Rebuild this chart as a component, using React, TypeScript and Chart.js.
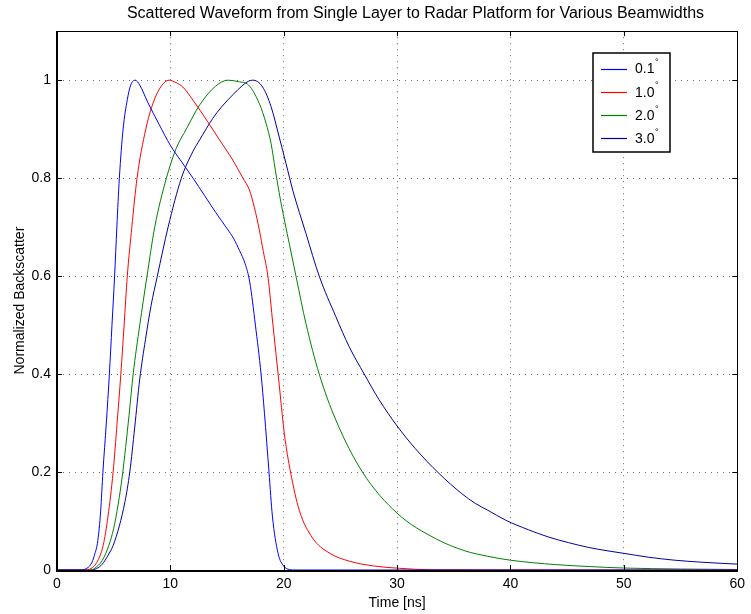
import React, { useEffect, useRef } from "react";
import { Chart, registerables } from "chart.js";

Chart.register(...registerables);

const TITLE = "Scattered Waveform from Single Layer to Radar Platform for Various Beamwidths";
const X_LABEL = "Time [ns]";
const Y_LABEL = "Normalized Backscatter";
const BEAMWIDTHS = ["0.1", "1.0", "2.0", "3.0"];
const COLORS = ["#0000ff", "#ff0000", "#008000", "#0000a0"];
const X_TICKS = [0, 10, 20, 30, 40, 50, 60];
const Y_TICKS = [0, 0.2, 0.4, 0.6, 0.8, 1];

// 0.1 deg
const T_01 = [0, 2, 2.5, 3, 3.3, 3.6, 3.85, 4.05, 4.35, 4.62, 4.85, 5.08, 5.28, 5.5, 5.83, 6.2, 6.5, 6.9, 7.3, 8, 9, 10, 11, 12, 13, 14, 15, 15.6, 16.1, 16.6, 17, 17.5, 18, 18.3, 18.7, 19, 19.5, 20, 20.5, 21, 60];
const V_01 = [0, 0, 0.002, 0.012, 0.03, 0.06, 0.12, 0.2, 0.3, 0.4, 0.5, 0.6, 0.7, 0.8, 0.9, 0.96, 0.99, 1.0, 0.99, 0.955, 0.91, 0.867, 0.833, 0.8, 0.765, 0.73, 0.697, 0.676, 0.652, 0.625, 0.588, 0.5, 0.4, 0.32, 0.2, 0.11, 0.034, 0.008, 0.001, 0, 0];

// 1.0 deg
const T_10 = [0, 2.5, 3, 3.5, 4.07, 4.5, 4.95, 5.3, 5.63, 5.92, 6.2, 6.6, 7.06, 7.83, 8.5, 9.2, 9.88, 10.5, 11.1, 12.0, 13.3, 14.34, 15.5, 16.4, 16.97, 17.4, 17.85, 18.2, 18.6, 19.05, 19.55, 20.05, 20.6, 21.37, 22.55, 24, 25.8, 28, 30.2, 33, 60];
const V_10 = [0, 0, 0.003, 0.015, 0.05, 0.11, 0.2, 0.3, 0.4, 0.5, 0.6, 0.7, 0.8, 0.9, 0.955, 0.988, 1.0, 0.995, 0.986, 0.959, 0.915, 0.878, 0.837, 0.8, 0.776, 0.741, 0.694, 0.65, 0.6, 0.5, 0.39, 0.279, 0.2, 0.122, 0.065, 0.035, 0.018, 0.008, 0.0035, 0.0005, 0];

// 2.0 deg
const T_20 = [0, 3, 3.3, 4, 4.57, 5, 5.4, 5.75, 6.05, 6.35, 6.72, 7.3, 7.94, 8.62, 9.65, 10.5, 11.4, 12.6, 14, 15.07, 16, 16.9, 17.85, 18.44, 18.88, 19.26, 19.7, 20.1, 20.5, 21.08, 21.96, 23.13, 24.6, 26.94, 30, 33.4, 36, 38, 40, 44, 47, 50, 55, 60];
const V_20 = [0, 0, 0.003, 0.02, 0.05, 0.085, 0.135, 0.19, 0.25, 0.315, 0.4, 0.5, 0.6, 0.7, 0.8, 0.86, 0.9, 0.95, 0.988, 1.0, 0.997, 0.99, 0.952, 0.912, 0.871, 0.816, 0.757, 0.71, 0.665, 0.6, 0.503, 0.4, 0.306, 0.2, 0.116, 0.064, 0.039, 0.028, 0.02, 0.011, 0.007, 0.004, 0.002, 0.001];

// 3.0 deg
const T_30 = [0, 3, 3.5, 4, 4.5, 4.95, 5.5, 6, 6.42, 6.85, 7.3, 7.8, 8.3, 8.85, 9.8, 10.97, 12, 12.58, 13.74, 14.5, 15.5, 16.4, 16.9, 17.27, 18.14, 18.88, 19.6, 20.2, 20.8, 21.96, 23.13, 24.6, 25.77, 27.1, 28.4, 30, 31.6, 33.7, 35.7, 36.9, 38.0, 39.55, 41.6, 43.4, 45.1, 46.9, 48.6, 50, 52.2, 54.5, 56.8, 60];
const V_30 = [0, 0, 0.003, 0.012, 0.03, 0.05, 0.09, 0.14, 0.2, 0.29, 0.39, 0.47, 0.54, 0.6, 0.7, 0.8, 0.855, 0.878, 0.922, 0.945, 0.97, 0.99, 0.998, 1.0, 0.986, 0.946, 0.884, 0.83, 0.775, 0.687, 0.6, 0.517, 0.456, 0.4, 0.348, 0.294, 0.248, 0.197, 0.156, 0.136, 0.122, 0.102, 0.082, 0.067, 0.056, 0.046, 0.039, 0.034, 0.026, 0.02, 0.016, 0.012];

const SERIES_T = [T_01, T_10, T_20, T_30];
const SERIES_V = [V_01, V_10, V_20, V_30];

const FONT = "'Liberation Sans', Arial, Helvetica, sans-serif";

const titleShift = {
  id: "titleShift",
  afterLayout(chart: any) {
    const tb = chart.titleBlock;
    if (tb) {
      tb.left = 80;
      tb.right = 751;
      tb.width = 671;
    }
  },
};

const frameAndTicks = {
  id: "frameAndTicks",
  afterDatasetsDraw(chart: any) {
    const { ctx, chartArea } = chart;
    const { left, right, top, bottom } = chartArea;
    const xs = chart.scales.x;
    const ys = chart.scales.y;
    const len = 5;
    ctx.save();
    ctx.strokeStyle = "#000";
    ctx.lineWidth = 1;
    ctx.beginPath();
    xs.ticks.forEach((t: any) => {
      const px = Math.round(xs.getPixelForValue(t.value)) + 0.5;
      ctx.moveTo(px, bottom);
      ctx.lineTo(px, bottom - len);
      ctx.moveTo(px, top);
      ctx.lineTo(px, top + len);
    });
    ys.ticks.forEach((t: any) => {
      const py = Math.round(ys.getPixelForValue(t.value)) + 0.5;
      ctx.moveTo(left, py);
      ctx.lineTo(left + len, py);
      ctx.moveTo(right, py);
      ctx.lineTo(right - len, py);
    });
    ctx.stroke();
    ctx.lineWidth = 1;
    ctx.strokeRect(Math.round(left) + 0.5, Math.round(top) + 0.5, Math.round(right - left), Math.round(bottom - top));
    ctx.lineWidth = 2;
    ctx.beginPath();
    ctx.moveTo(Math.round(left), Math.round(top));
    ctx.lineTo(Math.round(left), Math.round(bottom) + 1);
    ctx.lineTo(Math.round(right) + 1, Math.round(bottom) + 1);
    ctx.stroke();
    ctx.restore();
  },
};

const boxLegend = {
  id: "boxLegend",
  afterDraw(chart: any) {
    const { ctx } = chart;
    const bx = 593;
    const by = 53;
    const bw = 77;
    const bh = 99;
    ctx.save();
    ctx.fillStyle = "#fff";
    ctx.fillRect(bx, by, bw, bh);
    ctx.strokeStyle = "#000";
    ctx.lineWidth = 1.5;
    ctx.strokeRect(bx, by, bw, bh);
    BEAMWIDTHS.forEach((txt, i) => {
      const cy = by + 15.5 + i * 23.3;
      ctx.strokeStyle = COLORS[i];
      ctx.lineWidth = 1.2;
      ctx.beginPath();
      ctx.moveTo(bx + 8, Math.round(cy) + 0.5);
      ctx.lineTo(bx + 34, Math.round(cy) + 0.5);
      ctx.stroke();
      ctx.fillStyle = "#000";
      ctx.font = `14px ${FONT}`;
      ctx.textBaseline = "middle";
      ctx.textAlign = "left";
      ctx.fillText(txt, bx + 42, cy + 1);
      const w = ctx.measureText(txt).width;
      ctx.font = `9px ${FONT}`;
      ctx.fillText("\u00b0", bx + 42 + w + 0.5, cy - 6);
    });
    ctx.restore();
  },
};

export default function App() {
  const ref = useRef<HTMLCanvasElement | null>(null);
  useEffect(() => {
    if (!ref.current) return;
    const datasets = SERIES_T.map((ts, i) => ({
      label: BEAMWIDTHS[i] + "\u00b0",
      data: ts.map((t, j) => ({ x: t, y: SERIES_V[i][j] })),
      borderColor: COLORS[i],
      backgroundColor: COLORS[i],
      borderWidth: 1,
      pointRadius: 0,
      fill: false,
      cubicInterpolationMode: "monotone" as const,
    }));
    const chart = new Chart(ref.current, {
      type: "line",
      data: { datasets },
      plugins: [titleShift, frameAndTicks, boxLegend],
      options: {
        animation: false,
        responsive: false,
        devicePixelRatio: 1,
        layout: { padding: { left: 0, right: 11, top: 0, bottom: 0 } },
        plugins: {
          legend: { display: false },
          tooltip: { enabled: false },
          title: {
            display: true,
            text: TITLE,
            color: "#000",
            font: { family: FONT, size: 16, weight: "normal" },
            padding: { top: 4, bottom: 8 },
          },
        },
        scales: {
          x: {
            type: "linear",
            min: 0,
            max: 60,
            afterBuildTicks: (s: any) => {
              s.ticks = X_TICKS.map((v) => ({ value: v }));
            },
            afterFit: (s: any) => {
              s.height = 44;
            },
            grid: { color: "rgba(0,0,0,0.6)", lineWidth: 1, drawTicks: false },
            border: { display: false, dash: [1, 5] },
            ticks: {
              color: "#000",
              font: { family: FONT, size: 14 },
              padding: 6,
              maxRotation: 0,
              callback: (v: any) => String(v),
            },
            title: {
              display: true,
              text: X_LABEL,
              color: "#000",
              font: { family: FONT, size: 14 },
              padding: { top: 0, bottom: 2 },
            },
          },
          y: {
            type: "linear",
            min: 0,
            max: 1.1,
            afterBuildTicks: (s: any) => {
              s.ticks = Y_TICKS.map((v) => ({ value: v }));
            },
            afterFit: (s: any) => {
              s.width = 57;
            },
            grid: { color: "rgba(0,0,0,0.6)", lineWidth: 1, drawTicks: false },
            border: { display: false, dash: [1, 5] },
            ticks: {
              color: "#000",
              font: { family: FONT, size: 14 },
              padding: 6,
              callback: (v: any) => String(v),
            },
            title: {
              display: true,
              text: Y_LABEL,
              color: "#000",
              font: { family: FONT, size: 14 },
              padding: { top: 12, bottom: 0 },
            },
          },
        },
      },
    } as any);
    return () => chart.destroy();
  }, []);
  return (
    <div style={{ position: "absolute", left: 0, top: 0, width: 751, height: 614, background: "#fff" }}>
      <canvas ref={ref} width={751} height={614} style={{ display: "block" }} />
    </div>
  );
}
